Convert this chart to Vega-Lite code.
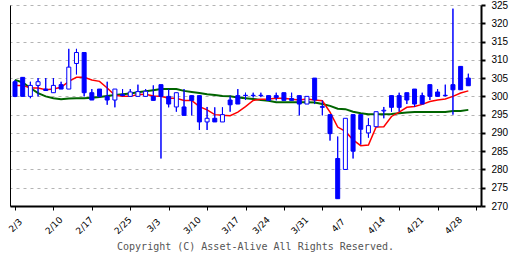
{
  "$schema": "https://vega.github.io/schema/vega-lite/v6.json",
  "width": 471,
  "height": 201,
  "autosize": {"type": "none"},
  "padding": {"left": 10, "top": 5, "right": 31, "bottom": 50},
  "background": "white",
  "title": {
    "text": "Copyright (C) Asset-Alive All Rights Reserved.",
    "orient": "bottom",
    "anchor": "middle",
    "frame": "group",
    "font": "DejaVu Sans Mono",
    "fontSize": 10,
    "fontWeight": "normal",
    "color": "#555555",
    "dx": 10,
    "offset": 6
  },
  "config": {"view": {"stroke": null}},
  "data": {
    "values": [
      {"d": 0, "date": "2025-02-03", "o": 304, "h": 304.5, "l": 299.8, "c": 300, "ma5": 303.0, "ma25": 304.5},
      {"d": 1, "date": "2025-02-04", "o": 305.2, "h": 305.2, "l": 300, "c": 300, "ma5": 303.0, "ma25": 303.8},
      {"d": 2, "date": "2025-02-05", "o": 300, "h": 304, "l": 299.5, "c": 303, "ma5": 302.3, "ma25": 302.3},
      {"d": 3, "date": "2025-02-06", "o": 303, "h": 305, "l": 300, "c": 304, "ma5": 302.3, "ma25": 300.9},
      {"d": 4, "date": "2025-02-07", "o": 302, "h": 305, "l": 301.5, "c": 301.6, "ma5": 301.8, "ma25": 300.0},
      {"d": 5, "date": "2025-02-10", "o": 301, "h": 305, "l": 301, "c": 303, "ma5": 302.0, "ma25": 299.5},
      {"d": 6, "date": "2025-02-12", "o": 303.2, "h": 304, "l": 302, "c": 302, "ma5": 302.5, "ma25": 299.2},
      {"d": 7, "date": "2025-02-13", "o": 302, "h": 313, "l": 302, "c": 308, "ma5": 304.1, "ma25": 299.4},
      {"d": 8, "date": "2025-02-14", "o": 309, "h": 313, "l": 306, "c": 312, "ma5": 305.2, "ma25": 299.5},
      {"d": 9, "date": "2025-02-17", "o": 312, "h": 312, "l": 300, "c": 301, "ma5": 305.2, "ma25": 299.5},
      {"d": 10, "date": "2025-02-18", "o": 301, "h": 302, "l": 299, "c": 299, "ma5": 304.5, "ma25": 299.6},
      {"d": 11, "date": "2025-02-19", "o": 302, "h": 302, "l": 299.7, "c": 300, "ma5": 304.1, "ma25": 299.8},
      {"d": 12, "date": "2025-02-20", "o": 300, "h": 304, "l": 297.7, "c": 299, "ma5": 302.3, "ma25": 300.1},
      {"d": 13, "date": "2025-02-21", "o": 299, "h": 302, "l": 297, "c": 302, "ma5": 300.3, "ma25": 300.4},
      {"d": 14, "date": "2025-02-25", "o": 300.5, "h": 302, "l": 300, "c": 300.2, "ma5": 300.0, "ma25": 300.6},
      {"d": 15, "date": "2025-02-26", "o": 300, "h": 302, "l": 300, "c": 301.2, "ma5": 300.0, "ma25": 300.8},
      {"d": 16, "date": "2025-02-27", "o": 300, "h": 303.2, "l": 300, "c": 301.3, "ma5": 300.5, "ma25": 301.1},
      {"d": 17, "date": "2025-02-28", "o": 300, "h": 302, "l": 300, "c": 301.4, "ma5": 300.6, "ma25": 301.4},
      {"d": 18, "date": "2025-03-03", "o": 300, "h": 303, "l": 298.9, "c": 298.9, "ma5": 300.1, "ma25": 301.7},
      {"d": 19, "date": "2025-03-04", "o": 303.2, "h": 303.2, "l": 283, "c": 300, "ma5": 300.0, "ma25": 302.0},
      {"d": 20, "date": "2025-03-05", "o": 300, "h": 302, "l": 297, "c": 297.9, "ma5": 299.5, "ma25": 302.0},
      {"d": 21, "date": "2025-03-06", "o": 297.1, "h": 301, "l": 295.8, "c": 301, "ma5": 299.5, "ma25": 302.0},
      {"d": 22, "date": "2025-03-07", "o": 297.1, "h": 302, "l": 294.8, "c": 294.8, "ma5": 298.9, "ma25": 301.5},
      {"d": 23, "date": "2025-03-10", "o": 300.2, "h": 300.2, "l": 294.8, "c": 298.9, "ma5": 298.9, "ma25": 301.2},
      {"d": 24, "date": "2025-03-11", "o": 300.2, "h": 300.2, "l": 290.8, "c": 293, "ma5": 297.2, "ma25": 300.9},
      {"d": 25, "date": "2025-03-12", "o": 293, "h": 297.1, "l": 290.8, "c": 294, "ma5": 296.3, "ma25": 300.6},
      {"d": 26, "date": "2025-03-13", "o": 294, "h": 297, "l": 293, "c": 293, "ma5": 295.0, "ma25": 300.4},
      {"d": 27, "date": "2025-03-14", "o": 293, "h": 297, "l": 293, "c": 295, "ma5": 294.8, "ma25": 300.1},
      {"d": 28, "date": "2025-03-17", "o": 299, "h": 300.2, "l": 295.8, "c": 297.7, "ma5": 294.7, "ma25": 300.0},
      {"d": 29, "date": "2025-03-18", "o": 300.2, "h": 302, "l": 297.9, "c": 297.9, "ma5": 295.7, "ma25": 299.7},
      {"d": 30, "date": "2025-03-19", "o": 300.3, "h": 301, "l": 299, "c": 300.2, "ma5": 297.2, "ma25": 299.5},
      {"d": 31, "date": "2025-03-21", "o": 300.3, "h": 301, "l": 299.7, "c": 300.2, "ma5": 298.9, "ma25": 299.3},
      {"d": 32, "date": "2025-03-24", "o": 300.3, "h": 301, "l": 299.8, "c": 300.2, "ma5": 299.2, "ma25": 299.0},
      {"d": 33, "date": "2025-03-25", "o": 300.2, "h": 300.2, "l": 298.9, "c": 298.9, "ma5": 299.3, "ma25": 298.8},
      {"d": 34, "date": "2025-03-26", "o": 300.2, "h": 301, "l": 298.9, "c": 299.7, "ma5": 299.5, "ma25": 298.4},
      {"d": 35, "date": "2025-03-27", "o": 301, "h": 301, "l": 298.9, "c": 298.9, "ma5": 299.5, "ma25": 298.4},
      {"d": 36, "date": "2025-03-28", "o": 299.4, "h": 301, "l": 298.9, "c": 298.9, "ma5": 299.2, "ma25": 298.4},
      {"d": 37, "date": "2025-03-31", "o": 300.2, "h": 300.2, "l": 294.8, "c": 297.9, "ma5": 299.0, "ma25": 298.4},
      {"d": 38, "date": "2025-04-01", "o": 297.9, "h": 300, "l": 297.9, "c": 300, "ma5": 299.3, "ma25": 298.4},
      {"d": 39, "date": "2025-04-02", "o": 305, "h": 305, "l": 297.9, "c": 299, "ma5": 299.0, "ma25": 298.3},
      {"d": 40, "date": "2025-04-03", "o": 297.2, "h": 298.9, "l": 294.8, "c": 297.0, "ma5": 298.8, "ma25": 297.9},
      {"d": 41, "date": "2025-04-04", "o": 295, "h": 295, "l": 287.9, "c": 289.8, "ma5": 295.7, "ma25": 297.4},
      {"d": 42, "date": "2025-04-07", "o": 283, "h": 289, "l": 272, "c": 272, "ma5": 291.6, "ma25": 296.6},
      {"d": 43, "date": "2025-04-08", "o": 280, "h": 294, "l": 280, "c": 294, "ma5": 290.4, "ma25": 296.5},
      {"d": 44, "date": "2025-04-09", "o": 295, "h": 295, "l": 283, "c": 285, "ma5": 288.1, "ma25": 295.8},
      {"d": 45, "date": "2025-04-10", "o": 295, "h": 295, "l": 286.8, "c": 291, "ma5": 286.5, "ma25": 295.4},
      {"d": 46, "date": "2025-04-11", "o": 290, "h": 294, "l": 288.7, "c": 292, "ma5": 286.7, "ma25": 295.1},
      {"d": 47, "date": "2025-04-14", "o": 291.7, "h": 295.8, "l": 291.7, "c": 295.8, "ma5": 291.6, "ma25": 295.1},
      {"d": 48, "date": "2025-04-15", "o": 296, "h": 297.1, "l": 294, "c": 296.2, "ma5": 291.7, "ma25": 295.1},
      {"d": 49, "date": "2025-04-16", "o": 300.2, "h": 300.2, "l": 295.8, "c": 297, "ma5": 294.5, "ma25": 295.2},
      {"d": 50, "date": "2025-04-17", "o": 300.2, "h": 301, "l": 295.8, "c": 297, "ma5": 295.7, "ma25": 295.4},
      {"d": 51, "date": "2025-04-18", "o": 301, "h": 301, "l": 297.9, "c": 299, "ma5": 297.0, "ma25": 295.6},
      {"d": 52, "date": "2025-04-21", "o": 302, "h": 302, "l": 297.1, "c": 297.9, "ma5": 297.2, "ma25": 295.7},
      {"d": 53, "date": "2025-04-22", "o": 300.2, "h": 301, "l": 297.9, "c": 297.9, "ma5": 297.8, "ma25": 295.7},
      {"d": 54, "date": "2025-04-23", "o": 303.2, "h": 303.2, "l": 299, "c": 300, "ma5": 298.6, "ma25": 295.7},
      {"d": 55, "date": "2025-04-24", "o": 301.2, "h": 302, "l": 300, "c": 300, "ma5": 299.0, "ma25": 295.7},
      {"d": 56, "date": "2025-04-25", "o": 300.3, "h": 303.2, "l": 300, "c": 300.2, "ma5": 299.3, "ma25": 295.7},
      {"d": 57, "date": "2025-04-28", "o": 303.2, "h": 324, "l": 295, "c": 301.8, "ma5": 300.0, "ma25": 296.0},
      {"d": 58, "date": "2025-04-30", "o": 308.2, "h": 308.2, "l": 301.8, "c": 301.8, "ma5": 300.9, "ma25": 296.0},
      {"d": 59, "date": "2025-05-01", "o": 305, "h": 306.2, "l": 302.9, "c": 302.9, "ma5": 301.5, "ma25": 296.3}
    ]
  },
  "encoding": {
    "x": {
      "field": "d",
      "type": "quantitative",
      "scale": {"domain": [0, 60], "nice": false, "zero": false},
      "axis": {
        "orient": "bottom",
        "title": null,
        "values": [0, 5, 9, 10, 14, 15, 18, 20, 23, 25, 28, 30, 32, 35, 37, 40, 42, 45, 47, 50, 52, 55, 57, 60],
        "labelExpr": "indexof([0,5,9,14,18,23,28,32,37,42,47,52,57], datum.value) >= 0 ? ['2/3','2/10','2/17','2/25','3/3','3/10','3/17','3/24','3/31','4/7','4/14','4/21','4/28'][indexof([0,5,9,14,18,23,28,32,37,42,47,52,57], datum.value)] : ''",
        "labelAngle": -45,
        "labelAlign": "center",
        "labelBaseline": "middle",
        "labelPadding": 15,
        "labelFlush": false,
        "labelOverlap": false,
        "labelFont": "DejaVu Sans",
        "labelFontSize": 9,
        "labelColor": "black",
        "grid": false,
        "domainColor": "black",
        "domainWidth": 2,
        "tickColor": "black",
        "tickWidth": 1,
        "tickSize": 4,
        "tickOpacity": {"condition": {"test": "datum.value % 5 === 0", "value": 1}, "value": 0}
      }
    }
  },
  "layer": [
    {
      "mark": {"type": "rule", "color": "#0000ff", "strokeWidth": 1},
      "encoding": {
        "y": {
          "field": "l",
          "type": "quantitative",
          "scale": {"domain": [270, 325], "nice": false, "zero": false},
          "axis": {
            "orient": "right",
            "title": null,
            "values": [270, 275, 280, 285, 290, 295, 300, 305, 310, 315, 320, 325],
            "grid": true,
            "gridDash": [3, 4],
            "gridColor": "#b4b4b4",
            "gridWidth": 1,
            "domainColor": "black",
            "domainWidth": 2,
            "tickColor": "black",
            "tickWidth": 2,
            "tickSize": 4,
            "labelFont": "Liberation Sans",
            "labelFontSize": 10,
            "labelColor": "black",
            "labelPadding": 6,
            "labelFlush": false,
            "labelOverlap": false
          }
        },
        "y2": {"field": "h"}
      }
    },
    {
      "mark": {"type": "line", "color": "#006400", "strokeWidth": 2},
      "encoding": {
        "y": {
          "field": "ma25",
          "type": "quantitative",
          "scale": {"domain": [270, 325], "nice": false, "zero": false},
          "axis": {
            "orient": "left",
            "title": null,
            "labels": false,
            "ticks": false,
            "grid": false,
            "domain": true,
            "domainColor": "black",
            "domainWidth": 1
          }
        }
      }
    },
    {
      "mark": {"type": "line", "color": "#ff0000", "strokeWidth": 1.5},
      "encoding": {
        "y": {"field": "ma5", "type": "quantitative", "scale": {"domain": [270, 325], "nice": false, "zero": false}, "axis": null}
      }
    },
    {
      "mark": {"type": "rule", "color": "#0000ff", "strokeWidth": 1},
      "encoding": {
        "y": {"field": "l", "type": "quantitative", "scale": {"domain": [270, 325], "nice": false, "zero": false}, "axis": null},
        "y2": {"field": "h"}
      }
    },
    {
      "mark": {"type": "bar", "size": 4, "stroke": "#0000ff", "strokeWidth": 1},
      "encoding": {
        "y": {"field": "o", "type": "quantitative", "scale": {"domain": [270, 325], "nice": false, "zero": false}, "axis": null},
        "y2": {"field": "c"},
        "fill": {"condition": {"test": "datum.c >= datum.o", "value": "white"}, "value": "#0000ff"}
      }
    }
  ],
  "resolve": {"axis": {"y": "independent"}}
}
